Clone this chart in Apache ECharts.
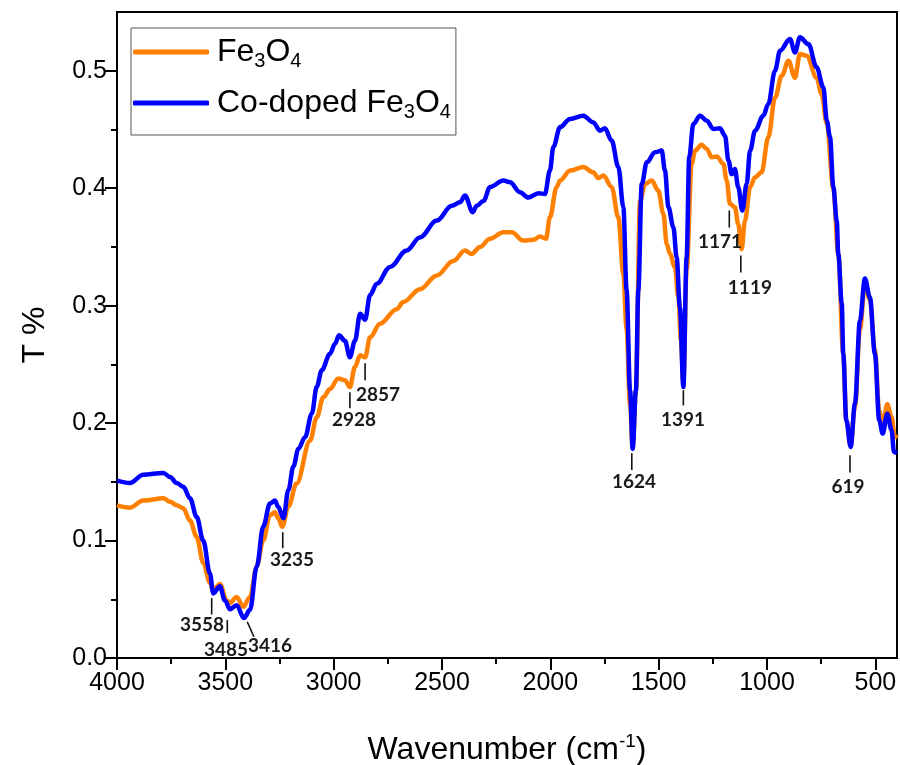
<!DOCTYPE html>
<html>
<head>
<meta charset="utf-8">
<script src="https://cdn.jsdelivr.net/npm/echarts@6/dist/echarts.min.js"></script>
<style>html,body{margin:0;padding:0;background:#fff;}#chart{width:900px;height:765px;}</style>
</head>
<body>
<div id="chart"></div>
<script>
// Wavenumber (cm-1) and transmittance readings
const wnFe = [4000,3940,3879,3786,3755,3724,3694,3663,3632,3602,3571,3557,3525,3494,3478,3448,3417,3386,3355,3325,3294,3271,3256,3237,3209,3171,3109,3078,3048,3017,2979,2948,2925,2902,2878,2855,2832,2786,2709,2679,2602,2524,2448,2394,2363,2325,2278,2217,2178,2125,2078,2048,2020,2002,1971,1955,1909,1848,1802,1779,1755,1717,1686,1663,1648,1632,1620,1605,1586,1563,1532,1502,1478,1463,1448,1425,1409,1397,1386,1371,1348,1332,1302,1278,1255,1232,1201,1186,1171,1148,1133,1117,1102,1078,1055,1025,994,963,932,901,871,848,817,771,748,724,694,671,648,634,614,594,571,548,525,502,482,466,445,425,410,400];
const tFe = [0.130,0.128,0.134,0.136,0.133,0.130,0.1275,0.117,0.103,0.081,0.064,0.058,0.063,0.049,0.047,0.052,0.0436,0.052,0.078,0.100,0.1216,0.124,0.119,0.1117,0.129,0.1486,0.185,0.205,0.222,0.229,0.238,0.2364,0.2307,0.2477,0.2577,0.256,0.273,0.2846,0.297,0.303,0.314,0.3257,0.338,0.347,0.344,0.350,0.357,0.3625,0.3625,0.3554,0.356,0.3588,0.357,0.3753,0.401,0.4065,0.415,0.418,0.4135,0.4087,0.4107,0.401,0.375,0.327,0.28,0.215,0.180,0.228,0.389,0.4036,0.4065,0.398,0.378,0.3526,0.344,0.3327,0.307,0.27,0.235,0.33,0.4206,0.432,0.437,0.4334,0.4263,0.427,0.4206,0.4065,0.3866,0.3838,0.3696,0.348,0.372,0.401,0.4094,0.4135,0.4433,0.477,0.4957,0.5085,0.494,0.5142,0.5128,0.494,0.480,0.455,0.40,0.344,0.259,0.2024,0.181,0.214,0.28,0.318,0.305,0.262,0.21,0.198,0.216,0.205,0.188,0.19];

const wnCo = [4000,3940,3879,3786,3755,3724,3694,3663,3632,3602,3571,3556,3525,3502,3478,3448,3414,3386,3355,3325,3294,3271,3256,3232,3209,3186,3163,3132,3101,3078,3055,3017,2994,2975,2948,2925,2902,2878,2855,2832,2801,2740,2663,2602,2524,2455,2417,2394,2358,2340,2309,2278,2217,2186,2140,2102,2055,2025,2002,1986,1955,1909,1848,1802,1771,1748,1717,1686,1663,1648,1632,1620,1605,1594,1578,1555,1517,1486,1471,1455,1432,1417,1402,1386,1371,1359,1340,1309,1278,1248,1217,1194,1178,1163,1148,1133,1114,1094,1078,1055,1017,994,963,940,894,871,848,809,771,740,724,709,694,678,671,655,648,634,614,594,571,548,525,502,482,466,445,425,414,400];
const tCo = [0.151,0.149,0.156,0.1576,0.154,0.149,0.1457,0.136,0.120,0.100,0.072,0.055,0.061,0.049,0.0415,0.045,0.034,0.041,0.078,0.112,0.1315,0.134,0.1287,0.119,0.143,0.163,0.178,0.188,0.208,0.231,0.245,0.259,0.2676,0.2747,0.270,0.256,0.270,0.293,0.288,0.309,0.3186,0.333,0.347,0.358,0.3724,0.385,0.388,0.3937,0.3795,0.385,0.389,0.401,0.4065,0.405,0.3966,0.392,0.3957,0.395,0.415,0.435,0.452,0.459,0.4617,0.456,0.449,0.451,0.4405,0.418,0.384,0.313,0.228,0.178,0.228,0.313,0.4036,0.422,0.4305,0.432,0.415,0.384,0.3667,0.341,0.2987,0.2307,0.341,0.4263,0.4546,0.4617,0.4575,0.4504,0.451,0.4447,0.4235,0.412,0.4163,0.401,0.381,0.4036,0.432,0.449,0.4617,0.4717,0.500,0.517,0.527,0.5156,0.5284,0.5227,0.503,0.486,0.4575,0.4433,0.401,0.372,0.344,0.302,0.259,0.2024,0.1797,0.2166,0.2874,0.323,0.307,0.259,0.2024,0.191,0.208,0.194,0.1754,0.1746];

const xMajorTicks = [500,1000,1500,2000,2500,3000,3500,4000];
const xMinorTicks = [750,1250,1750,2250,2750,3250,3750];
const yMajorTicks = [0,0.1,0.2,0.3,0.4,0.5];
const yMinorTicks = [0.05,0.15,0.25,0.35,0.45];

const seriesNames = ['Fe3O4','Co-doped Fe3O4'];

// Peak annotations
const annotLabels = ['3558','3485','3416','3235','2928','2857','1624','1391','1171','1119','619'];
const annotTickTop = [[3563,0.051],[3491,0.0323],[3399,0.0309],[3235,0.1071],[2925,0.2262],[2855,0.2509],[1624,0.1743],[1386,0.228],[1174,0.381],[1121,0.3427],[617,0.1726]];
const annotTickBottom = [[3563,0.037],[3491,0.0213],[3368,0.0181],[3235,0.0935],[2925,0.2126],[2855,0.2364],[1624,0.160],[1386,0.2151],[1174,0.3665],[1121,0.3282],[617,0.158]];
const annotTextPos = [[3608,0.028],[3497,0.0068],[3294,0.0102],[3192,0.0833],[2906,0.2024],[2795,0.2236],[1614,0.1497],[1388,0.2024],[1217,0.3546],[1079,0.3155],[626,0.1454]];

const pairs = (xs, ys) => xs.map((x, i) => [x, ys[i]]);
const annotData = annotLabels.map((l, i) => [annotTickTop[i][0], annotTickTop[i][1], annotTickBottom[i][0], annotTickBottom[i][1], annotTextPos[i][0], annotTextPos[i][1]]);

const chart = echarts.init(document.getElementById('chart'), null, {renderer: 'canvas'});
const axisCommon = {
  type: 'value', min: 400, max: 4000, inverse: true
};
const option = {
  backgroundColor: '#fff',
  animation: false,
  grid: {left: 117, right: 3, top: 12, bottom: 107, show: true, borderColor: '#000', borderWidth: 2, backgroundColor: 'transparent', containLabel: false, outerBoundsMode: 'none'},
  legend: {
    data: seriesNames,
    orient: 'vertical',
    left: 131, top: 28,
    itemWidth: 76, itemHeight: 5, icon: 'roundRect',
    itemGap: 13,
    padding: [5, 5, 13, 2],
    borderColor: '#555', borderWidth: 1,
    formatter: n => n.replace(/(\d)/g, '{sub|$1}'),
    textStyle: {
      fontFamily: 'Liberation Sans', fontSize: 32, color: '#000', lineHeight: 38, padding: [0, 0, 0, 3],
      rich: {sub: {fontFamily: 'Liberation Sans', fontSize: 20, color: '#000', lineHeight: 4, verticalAlign: 'bottom'}}
    }
  },
  xAxis: [
    Object.assign({}, axisCommon, {
      position: 'bottom',
      name: 'Wavenumber (cm{sup|-1})',
      nameLocation: 'middle', nameGap: 74,
      nameTextStyle: {fontFamily: 'Liberation Sans', fontSize: 32, color: '#000', lineHeight: 36,
        rich: {sup: {fontFamily: 'Liberation Sans', fontSize: 19, color: '#000', lineHeight: 14, verticalAlign: 'top'}}},
      axisLine: {show: true, lineStyle: {color: '#000', width: 2}},
      axisTick: {show: true, inside: false, length: 12, lineStyle: {color: '#000', width: 2}, customValues: xMajorTicks},
      axisLabel: {show: true, customValues: xMajorTicks, margin: 13, fontFamily: 'Liberation Sans', fontSize: 25, color: '#000', formatter: v => String(v)},
      splitLine: {show: false}
    }),
    Object.assign({}, axisCommon, {
      position: 'bottom',
      axisLine: {show: false},
      axisTick: {show: true, inside: false, length: 6, lineStyle: {color: '#000', width: 2}, customValues: xMinorTicks},
      axisLabel: {show: false},
      splitLine: {show: false}
    })
  ],
  yAxis: [
    {
      type: 'value', min: 0, max: 0.55, position: 'left',
      name: 'T %', nameLocation: 'middle', nameGap: 66, nameRotate: 90,
      nameTextStyle: {fontFamily: 'Liberation Sans', fontSize: 32, color: '#000'},
      axisLine: {show: true, lineStyle: {color: '#000', width: 2}},
      axisTick: {show: true, inside: false, length: 12, lineStyle: {color: '#000', width: 2}, customValues: yMajorTicks},
      axisLabel: {show: true, customValues: yMajorTicks, margin: 10, fontFamily: 'Liberation Sans', fontSize: 25, color: '#000', formatter: v => v.toFixed(1)},
      splitLine: {show: false}
    },
    {
      type: 'value', min: 0, max: 0.55, position: 'left',
      axisLine: {show: false},
      axisTick: {show: true, inside: false, length: 6, lineStyle: {color: '#000', width: 2}, customValues: yMinorTicks},
      axisLabel: {show: false},
      splitLine: {show: false}
    }
  ],
  series: [
    {
      name: seriesNames[0], type: 'line', data: pairs(wnFe, tFe),
      showSymbol: false, symbol: 'none', smooth: 0.35, smoothMonotone: 'x',
      lineStyle: {color: '#FF8000', width: 4.5}, itemStyle: {color: '#FF8000'}, z: 2
    },
    {
      name: seriesNames[1], type: 'line', data: pairs(wnCo, tCo),
      showSymbol: false, symbol: 'none', smooth: 0.35, smoothMonotone: 'x',
      lineStyle: {color: '#0000FF', width: 4.5}, itemStyle: {color: '#0000FF'}, z: 3
    },
    {
      type: 'custom', name: 'annotations', data: annotData,
      encode: {x: [0, 2, 4], y: [1, 3, 5]}, z: 5, silent: true, clip: false,
      renderItem: function (params, api) {
        const a = api.coord([api.value(0), api.value(1)]);
        const b = api.coord([api.value(2), api.value(3)]);
        const t = api.coord([api.value(4), api.value(5)]);
        return {
          type: 'group',
          children: [
            {type: 'line', shape: {x1: a[0], y1: a[1], x2: b[0], y2: b[1]}, style: {stroke: '#111', lineWidth: 1.6}},
            {type: 'text', x: t[0], y: t[1], style: {text: annotLabels[params.dataIndex], fill: '#1a1a1a', fontFamily: 'Lato', fontWeight: 'bold', fontSize: 19, align: 'center', verticalAlign: 'middle'}}
          ]
        };
      }
    }
  ]
};
chart.setOption(option);
</script>
</body>
</html>
